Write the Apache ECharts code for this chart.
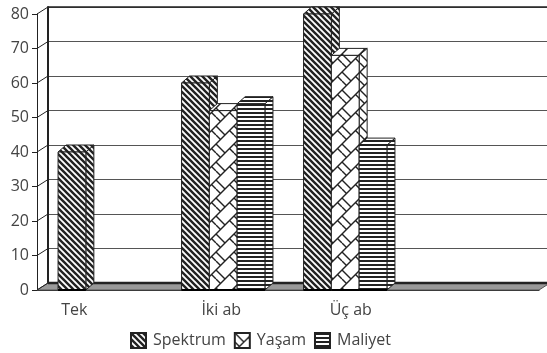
<!DOCTYPE html>
<html>
<head>
<meta charset="utf-8">
<style>html,body{margin:0;background:#fff}#c{width:547px;height:353px}</style>
<script src="https://cdn.jsdelivr.net/npm/echarts@6/dist/echarts.min.js"></script>
</head>
<body>
<div id="c"></div>
<script>
var categories = ['Tek', 'İki ab', 'Üç ab', ''];
var yTicks = [0, 10, 20, 30, 40, 50, 60, 70, 80];
var spektrum = [40, 60, 80, null];
var yasam = [null, 52, 68, null];
var maliyet = [null, 54, 42, null];

var ink = '#222', textColor = '#444', font = 'Open Sans';
var wallDx = 11, wallDy = 7;	// depth of the walls
var barDx = 8, barDy = 7;		// depth of the bars
var groupShift = [0, -2, -5.5, 0];	// the groups are not quite centred in the original

function tile(w, h, draw) {
	var cv = document.createElement('canvas');
	cv.width = w; cv.height = h;
	var g = cv.getContext('2d');
	g.fillStyle = '#fff';
	g.fillRect(0, 0, w, h);
	g.strokeStyle = ink;
	g.fillStyle = ink;
	draw(g);
	return { image: cv, repeat: 'repeat' };
}
function seg(g, a, b, c, d) {
	g.beginPath(); g.moveTo(a, b); g.lineTo(c, d); g.stroke();
}
var stripes = tile(6, 6, function (g) {
	g.lineWidth = 2.4;
	seg(g, -1, -1, 7, 7); seg(g, 5, -1, 7, 1); seg(g, -1, 5, 1, 7);
});
var brick = tile(18, 18, function (g) {
	g.lineWidth = 1.4;
	seg(g, -1, 19, 19, -1); seg(g, -1, 1, 1, -1); seg(g, 17, 19, 19, 17);
	seg(g, 0, 0, 9, 9);
	seg(g, 13.5, 4.5, 18, 9); seg(g, 0, 9, 4.5, 13.5);
});
var lines = tile(4, 4, function (g) {
	g.fillRect(0, 0, 4, 2);
});

function barItem(pattern) {
	return function (params, api) {
		var i = api.value(0), v = api.value(1);
		if (isNaN(v)) return null;
		var band = api.size([1, 0])[0], w = band * 0.2215;
		var c = api.coord([i, v]), base = api.coord([i, 0]);
		var x = c[0] - 1.5 * w + groupShift[i] + w * (params.seriesIndex - 3);
		var s = { fill: pattern, stroke: ink, lineWidth: 1 };
		return {
			type: 'group',
			children: [
				{ type: 'polygon', shape: { points: [[x + w, c[1]], [x + w + barDx, c[1] - barDy], [x + w + barDx, base[1] - barDy], [x + w, base[1]]] }, style: s },
				{ type: 'polygon', shape: { points: [[x, c[1]], [x + barDx, c[1] - barDy], [x + w + barDx, c[1] - barDy], [x + w, c[1]]] }, style: s },
				{ type: 'rect', shape: { x: x, y: c[1], width: w, height: base[1] - c[1] }, style: s },
				{ type: 'line', shape: { x1: x, y1: base[1], x2: x + w, y2: base[1] }, style: { stroke: '#000', lineWidth: 2 } }
			]
		};
	};
}
function barSeries(name, values, pattern) {
	return {
		type: 'custom', name: name, xAxisIndex: 0, yAxisIndex: 0, z: 5,
		itemStyle: { color: pattern, borderColor: ink, borderWidth: 1 },
		renderItem: barItem(pattern),
		encode: { x: 0, y: 1 },
		data: values.map(function (v, i) { return [i, v === null ? NaN : v]; })
	};
}

var chart = echarts.init(document.getElementById('c'), null, { renderer: 'canvas' });
chart.setOption({
	animation: false,
	backgroundColor: '#fff',
	textStyle: { fontFamily: font },
	legend: {
		left: 125, top: 327, itemWidth: 15, itemHeight: 15, itemGap: 8,
		icon: 'rect',
		data: ['Spektrum', 'Yaşam', 'Maliyet'],
		textStyle: { fontFamily: font, fontSize: 16, color: textColor, padding: [0, 0, 0, 2] }
	},
	grid: [
		{ left: 37, right: 8, top: 14, bottom: 63 },
		{ left: 37 + wallDx, right: 0, top: 14 - wallDy, bottom: 63 + wallDy }
	],
	xAxis: [
		{
			type: 'category', gridIndex: 0, data: [
				{ value: categories[0], textStyle: { padding: [0, 51, 0, 0] } },
				{ value: categories[1], textStyle: { padding: [0, 8, 0, 0] } },
				{ value: categories[2] },
				{ value: categories[3] }
			],
			axisLine: { lineStyle: { color: ink, width: 1 } },
			axisTick: { length: 5, lineStyle: { color: ink } },
			axisLabel: { color: textColor, fontSize: 16, margin: 12, fontFamily: font, interval: 0 }
		},
		{ type: 'category', gridIndex: 1, data: categories, show: false }
	],
	yAxis: [
		{
			type: 'value', gridIndex: 0, min: 0, max: 80, interval: 10,
			axisLine: { show: true, lineStyle: { color: ink, width: 1 } },
			axisTick: { show: true, length: 5, lineStyle: { color: ink } },
			axisLabel: { color: textColor, fontSize: 16, margin: 8, fontFamily: font, padding: [4, 0, 0, 0] },
			splitLine: { show: false }
		},
		{
			type: 'value', gridIndex: 1, min: 0, max: 80, interval: 10,
			axisLabel: { show: false }, axisTick: { show: false },
			axisLine: { show: true, lineStyle: { color: ink, width: 2 } },
			splitLine: { show: true, lineStyle: { color: '#555', width: 1 } }
		}
	],
	series: [
		{
			// floor
			type: 'custom', xAxisIndex: 0, yAxisIndex: 0, z: 1, silent: true,
			renderItem: function (params, api) {
				var a = api.coord([0, 0]), band = api.size([1, 0])[0];
				var l = a[0] - band / 2, r = l + band * categories.length, y = a[1];
				return {
					type: 'group',
					children: [
						{ type: 'polygon', shape: { points: [[l, y], [l + wallDx, y - wallDy], [r + wallDx, y - wallDy], [r, y]] }, style: { fill: '#999', stroke: '#555', lineWidth: 1 } },
						{ type: 'line', shape: { x1: l + wallDx, y1: y - wallDy, x2: r + wallDx, y2: y - wallDy }, style: { stroke: ink, lineWidth: 2.5 } }
					]
				};
			},
			data: [[0, 0]]
		},
		{
			// short diagonals joining the front axis to the back wall
			type: 'custom', xAxisIndex: 0, yAxisIndex: 0, z: 1, silent: true,
			renderItem: function (params, api) {
				var p = api.coord([0, api.value(0)]), band = api.size([1, 0])[0];
				var x = p[0] - band / 2;
				return { type: 'line', shape: { x1: x, y1: p[1], x2: x + wallDx, y2: p[1] - wallDy }, style: { stroke: ink, lineWidth: 1 } };
			},
			data: yTicks.map(function (t) { return [t]; })
		},
		{
			// top edge of the back wall, heavier than the other lines
			type: 'custom', xAxisIndex: 1, yAxisIndex: 1, z: 2, silent: true,
			renderItem: function (params, api) {
				var p = api.coord([0, 80]), band = api.size([1, 0])[0];
				var x = p[0] - band / 2;
				return { type: 'line', shape: { x1: x, y1: p[1], x2: x + band * categories.length, y2: p[1] }, style: { stroke: ink, lineWidth: 1.5 } };
			},
			data: [[0]]
		},
		barSeries('Spektrum', spektrum, stripes),
		barSeries('Yaşam', yasam, brick),
		barSeries('Maliyet', maliyet, lines)
	]
});
</script>
</body>
</html>
